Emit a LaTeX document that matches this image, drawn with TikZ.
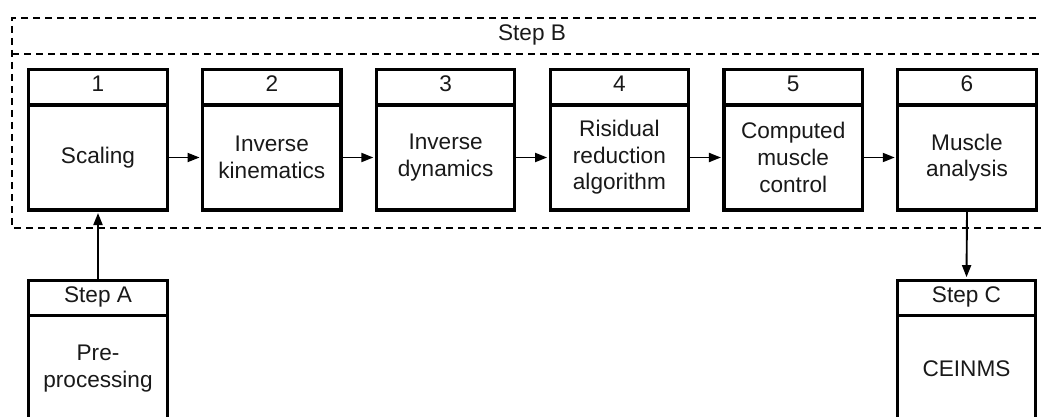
\documentclass[tikz,border=0pt]{standalone}
\usepackage{fontspec}
\setmainfont{Liberation Sans}
\usetikzlibrary{arrows.meta}
\begin{document}
\begin{tikzpicture}[x=1pt,y=-1pt,
  every node/.style={font=\fontsize{22.6}{26.6}\selectfont, text=black!90},
  hdr/.style={draw, line width=3.2pt, minimum width=138.5pt, minimum height=35.7pt,
              inner sep=0pt, text height=15pt, text depth=5.6pt},
  bodybox/.style={draw, line width=3.2pt, minimum width=138.5pt, minimum height=105pt,
              inner sep=0pt, align=center},
  arr/.style={line width=1.9pt, -{Triangle[length=12pt,width=9pt]}, shorten >=1.4pt},
  stagebox/.style={line width=1.7pt, dash pattern=on 7pt off 5pt}
]
\useasboundingbox (0,0) rectangle (1041,417);
\clip (0,0) rectangle (1041,417);

% Step B frame with its title strip
\draw[stagebox] (1060,18) -- (12,18) -- (12,228) -- (1060,228);
\draw[stagebox] (12,54) -- (1060,54);
\node[anchor=base] (stepB) at (532,41) {Step B};

% Processing chain 1-6
\foreach \i/\txt [evaluate=\i as \cx using {98+173.8*(\i-1)}] in
  {1/Scaling, 2/{Inverse\\kinematics}, 3/{Inverse\\dynamics},
   4/{Risidual\\reduction\\algorithm}, 5/{Computed\\muscle\\control},
   6/{Muscle\\analysis}}{
  \node[hdr] (h\i) at (\cx,87.3) {\i};
  \node[bodybox] (b\i) at (\cx,157.5) {\txt};
}
\foreach \a/\b in {1/2,2/3,3/4,4/5,5/6}
  \draw[arr] (b\a.east) -- (b\b.west);

% Step A: pre-processing
\node[hdr] (hA) at (98,298) {Step A};
\node[bodybox] (bA) at (98,368.3) {Pre-\\processing};

% Step C: CEINMS
\node[hdr] (hC) at (966.5,298) {Step C};
\node[bodybox] (bC) at (966.5,368.3) {CEINMS};

\draw[arr] (hA.north) -- (b1.south);
\draw[arr] (b6.south) -- (hC.north);
\end{tikzpicture}
\end{document}
